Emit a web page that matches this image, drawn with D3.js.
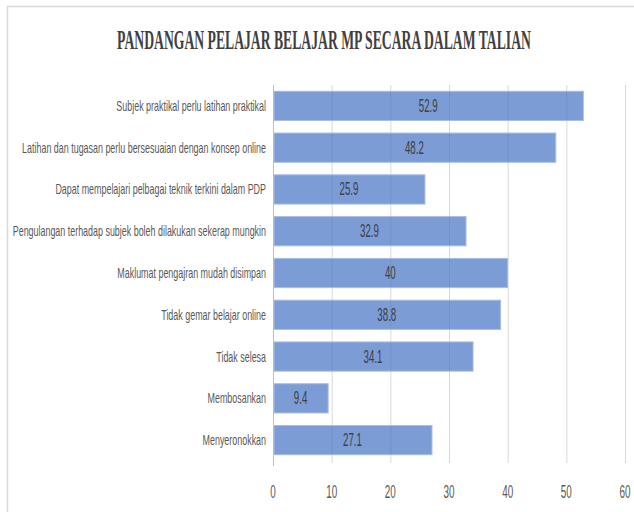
<!DOCTYPE html>
<html><head><meta charset="utf-8">
<script src="https://cdn.jsdelivr.net/npm/d3@7"></script>
<style>body{margin:0;background:#fff}svg{display:block}</style>
</head><body>
<script>
const categories = [
  "Subjek praktikal perlu latihan praktikal",
  "Latihan dan tugasan perlu bersesuaian dengan konsep online",
  "Dapat mempelajari pelbagai teknik terkini dalam PDP",
  "Pengulangan terhadap subjek boleh dilakukan sekerap mungkin",
  "Maklumat pengajran mudah disimpan",
  "Tidak gemar belajar online",
  "Tidak selesa",
  "Membosankan",
  "Menyeronokkan"
];
const values = [52.9, 48.2, 25.9, 32.9, 40, 38.8, 34.1, 9.4, 27.1];
const tickValues = [0, 10, 20, 30, 40, 50, 60];
const title = "PANDANGAN PELAJAR BELAJAR MP SECARA DALAM TALIAN";

const W = 634, H = 512;
const svg = d3.select("body").append("svg").attr("width", W).attr("height", H);

// chart border (top/left visible)
svg.append("rect").attr("x", 7.5).attr("y", 6.5).attr("width", 700).attr("height", 600)
  .attr("fill", "#fff").attr("stroke", "#d9d9d9").attr("stroke-width", 1.5);

const x = d3.scaleLinear().domain([0, 60]).range([273, 625]);
const y = d3.scaleBand().domain(categories).range([85, 461]).paddingInner(0.3).paddingOuter(0.15);

// gridlines
svg.append("g").selectAll("line").data(tickValues).join("line")
  .attr("x1", d => x(d) + 0.5).attr("x2", d => x(d) + 0.5)
  .attr("y1", 85).attr("y2", d => d === 0 ? 466 : 463)
  .attr("stroke", d => d === 0 ? "#bfbfbf" : "#d9d9d9").attr("stroke-width", 1);

// bars
svg.append("g").selectAll("rect").data(values).join("rect")
  .attr("x", x(0) + 1).attr("y", (d, i) => y(categories[i]))
  .attr("width", d => x(d) - x(0) - 1).attr("height", y.bandwidth())
  .attr("fill", "#4472c4").attr("fill-opacity", 0.7)
  .attr("stroke", "#a8bde6").attr("stroke-width", 1);

const FONT = "'Liberation Sans', Arial, sans-serif";

// category labels
svg.append("g").selectAll("text").data(categories).join("text")
  .attr("transform", d => `translate(266,${y(d) + y.bandwidth() / 2 + 5}) scale(0.595,1)`)
  .attr("text-anchor", "end").attr("font-family", FONT).attr("font-size", 15)
  .attr("fill", "#595959").text(d => d);

// data labels
svg.append("g").selectAll("text").data(values).join("text")
  .attr("transform", (d, i) => `translate(${(x(0) + x(d)) / 2},${y(categories[i]) + y.bandwidth() / 2 + 6}) scale(0.54,1)`)
  .attr("text-anchor", "middle").attr("font-family", FONT).attr("font-size", 18)
  .attr("fill", "#404040").text(d => d);

// x tick labels
svg.append("g").selectAll("text").data(tickValues).join("text")
  .attr("transform", d => `translate(${x(d)},${498}) scale(0.55,1)`)
  .attr("text-anchor", "middle").attr("font-family", FONT).attr("font-size", 18)
  .attr("fill", "#595959").text(d => d);

// title (condensed to fit its width)
const t = svg.append("text")
  .attr("text-anchor", "middle")
  .attr("font-family", "'Liberation Serif', serif").attr("font-weight", "bold")
  .attr("font-size", 27).attr("fill", "#404040").text(title);
const tw = t.node().getComputedTextLength();
t.attr("transform", `translate(324,49) scale(${414 / tw},1)`);
</script>
</body></html>
